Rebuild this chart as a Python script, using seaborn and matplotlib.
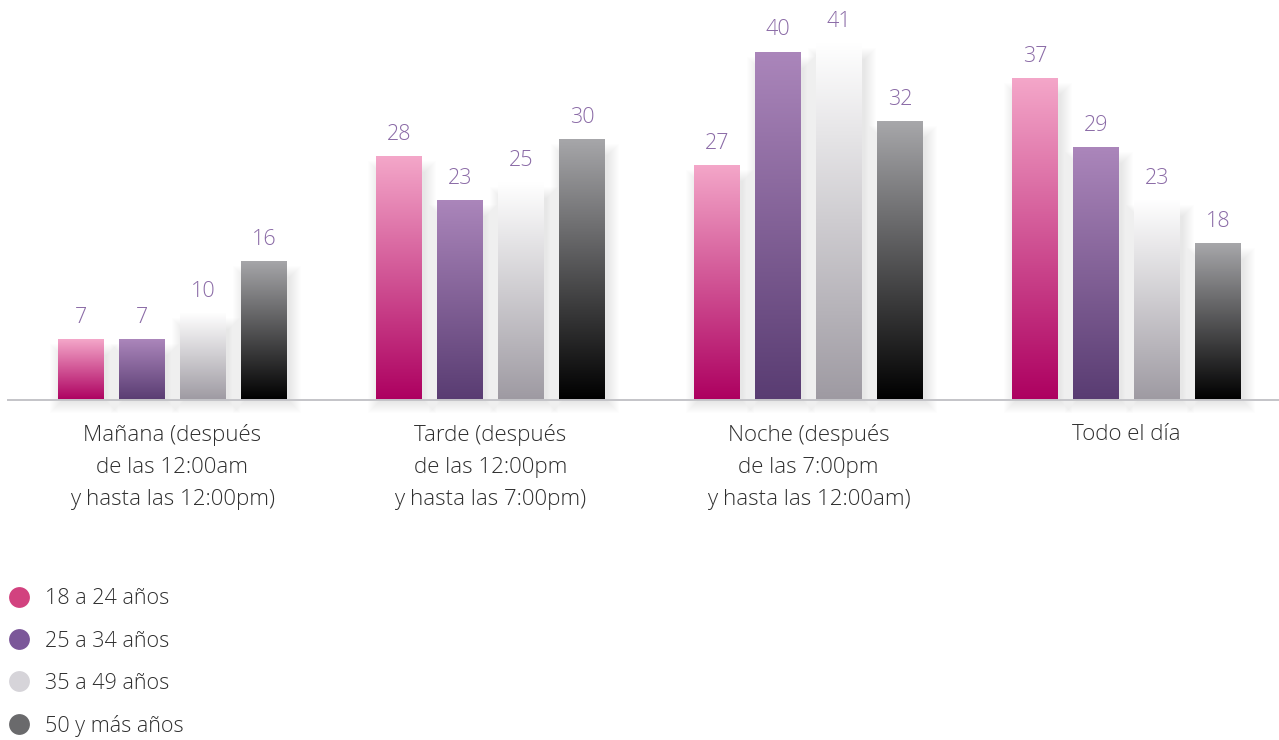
import numpy as np
import pandas as pd
import matplotlib
matplotlib.use("Agg")
import matplotlib.pyplot as plt
import seaborn as sns
from matplotlib.colors import LinearSegmentedColormap
from matplotlib.patches import Rectangle
from matplotlib.lines import Line2D

categories = ["Mañana (después\nde las 12:00am\ny hasta las 12:00pm)",
              "Tarde (después\nde las 12:00pm\ny hasta las 7:00pm)",
              "Noche (después\nde las 7:00pm\ny hasta las 12:00am)",
              "Todo el día"]
groups = ["18 a 24 años", "25 a 34 años", "35 a 49 años", "50 y más años"]
v_18_24 = [7, 28, 27, 37]
v_25_34 = [7, 23, 40, 29]
v_35_49 = [10, 25, 41, 23]
v_50 = [16, 30, 32, 18]

grad_top = ["#f4a7c9", "#ab86bb", "#ffffff", "#a7a7aa"]
grad_bot = ["#ad0060", "#593c72", "#9e9aa2", "#000000"]
legend_cols = ["#d2427f", "#7b5799", "#d6d4d9", "#6a6a6c"]
label_color = "#8a6aa6"
text_color = "#2e2e2e"

rows = []
for g, vals in zip(groups, [v_18_24, v_25_34, v_35_49, v_50]):
    for c, v in zip(categories, vals):
        rows.append({"cat": c, "grupo": g, "valor": v})
df = pd.DataFrame(rows)

sns.set_theme(style="white")
plt.rcParams["font.family"] = ["Open Sans", "DejaVu Sans"]

W, H = 1279, 740
fig = plt.figure(figsize=(W / 100, H / 100), dpi=100)
ax_bottom = (H - 400) / H
ax_top_px = 8
ax = fig.add_axes([8 / W, ax_bottom, (W - 8) / W, (400 - ax_top_px) / H])

sns.barplot(data=df, x="cat", y="valor", hue="grupo", order=categories,
            hue_order=groups, width=0.767, gap=0.246, ax=ax, legend=False,
            palette=legend_cols, linewidth=0)

xlim = (-0.517, 3.48)
ylim = (0, 45)
ax.set_xlim(*xlim)
ax.set_ylim(*ylim)

px_x = (xlim[1] - xlim[0]) / (W - 8)
px_y = (ylim[1] - ylim[0]) / (400 - ax_top_px)

grad = np.linspace(0, 1, 256).reshape(-1, 1)
for gi, cont in enumerate(ax.containers):
    cmap = LinearSegmentedColormap.from_list(f"g{gi}", [grad_bot[gi], grad_top[gi]])
    for patch in cont.patches:
        x0, y0 = patch.get_x(), patch.get_y()
        w, h = patch.get_width(), patch.get_height()
        # soft shadow
        for k in range(12):
            bot = y0 - 2 * px_y - k * px_y
            top = max(y0 + h - 16 * px_y + k * px_y, y0 + 2 * px_y)
            sh = Rectangle((x0 + 3 * px_x - k * px_x, bot),
                           w + 2 * k * px_x, top - bot,
                           facecolor="#000000", alpha=0.007, linewidth=0,
                           zorder=1, clip_on=False)
            ax.add_patch(sh)
        patch.set_facecolor("none")
        patch.set_zorder(3)
        im = ax.imshow(grad, cmap=cmap, extent=[x0, x0 + w, y0, y0 + h],
                       aspect="auto", origin="lower", zorder=2, interpolation="bilinear")
        im.set_clip_path(patch)
    ax.bar_label(cont, padding=8, color=label_color, fontsize=15.5, fontweight="light")

ax.set_xlim(*xlim)
ax.set_ylim(*ylim)
ax.set_aspect("auto")

for s in ["top", "right", "left"]:
    ax.spines[s].set_visible(False)
ax.spines["bottom"].set_color("#c4c4c8")
ax.spines["bottom"].set_linewidth(1.4)
ax.spines["bottom"].set_zorder(4)
ax.set_yticks([])
ax.set_xlabel("")
ax.set_ylabel("")
ax.tick_params(axis="x", length=0, pad=17)
for t in ax.get_xticklabels():
    t.set_fontsize(16)
    t.set_color(text_color)
    t.set_linespacing(1.7)
    t.set_fontweight("light")
    t.set_verticalalignment("top")

handles = [Line2D([0], [0], marker="o", linestyle="none", markersize=15,
                  markerfacecolor=c, markeredgecolor="none") for c in legend_cols]
leg = fig.legend(handles, groups, loc="upper left", bbox_to_anchor=(0.0, 1 - 582 / H),
                 frameon=False, fontsize=15.5, labelspacing=0.98, handletextpad=0.6,
                 handlelength=1.2, borderaxespad=0, borderpad=0.3)
for t in leg.get_texts():
    t.set_color(text_color)
    t.set_fontweight("light")

fig.savefig("out.png", dpi=100, facecolor="white")
